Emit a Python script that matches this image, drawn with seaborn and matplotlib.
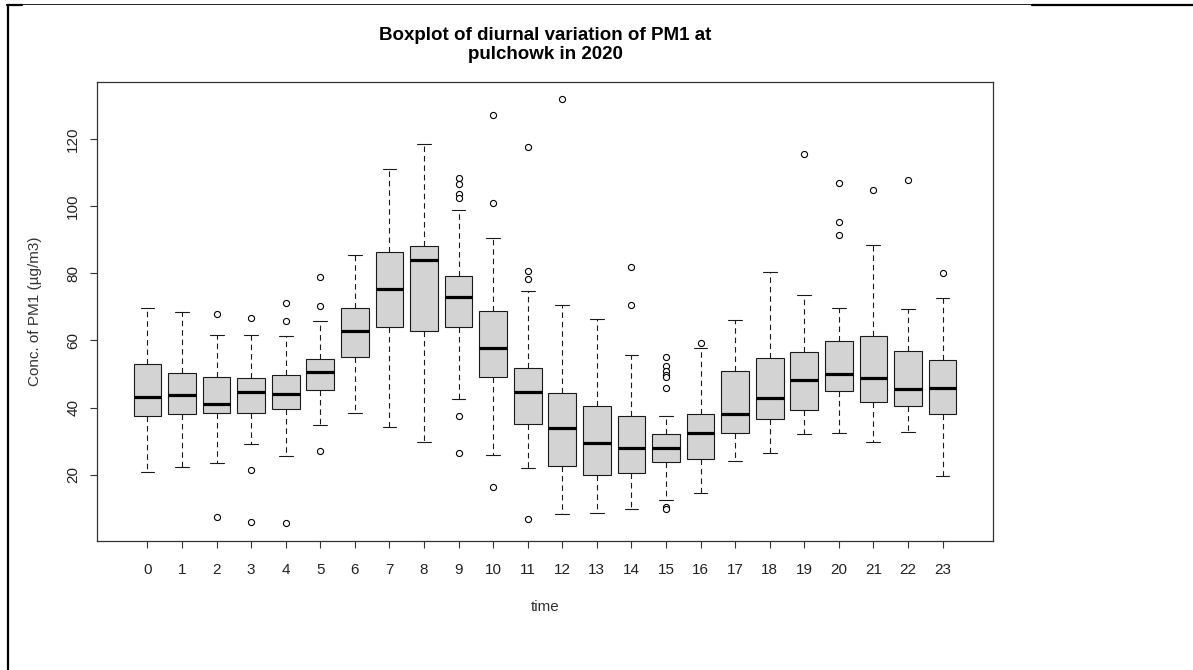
import numpy as np
import pandas as pd
import matplotlib
matplotlib.use("Agg")
import matplotlib.pyplot as plt
from matplotlib.lines import Line2D
import seaborn as sns

# ---- data ----
hours = list(range(24))
whisker_low = [20.7, 22.3, 23.5, 29.0, 25.5, 34.9, 38.3, 34.3, 29.8, 42.6, 25.9, 22.0,
               8.2, 8.7, 9.9, 12.6, 14.6, 24.2, 26.5, 32.2, 32.5, 29.6, 32.8, 19.7]
q1 = [37.5, 38.1, 38.3, 38.3, 39.5, 45.2, 55.0, 64.0, 62.7, 64.0, 49.1, 35.1,
      22.6, 20.0, 20.6, 23.8, 24.6, 32.5, 36.5, 39.2, 44.9, 41.7, 40.4, 38.1]
median = [43.2, 43.8, 41.1, 44.6, 44.0, 50.5, 62.7, 75.4, 83.8, 72.8, 57.7, 44.6,
          33.9, 29.3, 27.9, 27.9, 32.5, 38.0, 42.9, 48.1, 49.9, 48.8, 45.6, 45.9]
q3 = [53.0, 50.2, 49.0, 48.7, 49.6, 54.3, 69.5, 86.4, 88.2, 79.2, 68.7, 51.8,
      44.3, 40.4, 37.4, 32.2, 38.0, 51.0, 54.8, 56.5, 59.7, 61.4, 56.8, 54.0]
whisker_high = [69.6, 68.4, 61.7, 61.7, 61.2, 65.8, 85.5, 111.1, 118.3, 98.9, 90.5, 74.8,
                70.4, 66.3, 55.7, 37.4, 57.7, 66.0, 80.2, 73.4, 69.5, 88.4, 69.2, 72.5]

outlier_hours = [2, 2,
                 3, 3, 3,
                 4, 4, 4,
                 5, 5, 5,
                 9, 9, 9, 9, 9, 9,
                 10, 10, 10,
                 11, 11, 11, 11,
                 12,
                 14, 14,
                 15, 15, 15, 15, 15, 15, 15, 15,
                 16,
                 19,
                 20, 20, 20,
                 21,
                 22,
                 23]
outlier_values = [67.9, 7.3,
                  66.6, 21.5, 5.8,
                  71.0, 65.8, 5.6,
                  78.8, 70.1, 27.0,
                  108.3, 106.6, 103.6, 102.4, 37.5, 26.4,
                  127.0, 100.9, 16.2,
                  117.7, 80.6, 78.3, 6.8,
                  131.9,
                  81.7, 70.4,
                  55.0, 52.3, 50.8, 49.6, 49.0, 45.9, 10.5, 9.9,
                  59.2,
                  115.4,
                  106.7, 95.1, 91.3,
                  104.9,
                  107.8,
                  80.0]

title = "Boxplot of diurnal variation of PM1 at\npulchowk in 2020"
xlabel = "time"
ylabel = "Conc. of PM1 (\u00b5g/m3)"
yticks = [20, 40, 60, 80, 100, 120]

# ---- build long-form table reproducing the five-number summaries ----
B = 40
rows = []
for i, h in enumerate(hours):
    vals = [whisker_low[i]] + [q1[i]] * B + [median[i]] * B + [q3[i]] * B + [whisker_high[i]]
    rows += [(str(h), v) for v in vals]
box_df = pd.DataFrame(rows, columns=["hour", "value"])
out_df = pd.DataFrame({"hour": [str(h) for h in outlier_hours], "value": outlier_values})
order = [str(h) for h in hours]

# ---- plot ----
sns.set_theme(style="white")
plt.rcParams["font.family"] = ["Liberation Sans", "DejaVu Sans"]

fig = plt.figure(figsize=(11.93, 6.70), dpi=100)
ax = fig.add_axes([97 / 1193, 1 - 541 / 670, (993 - 97) / 1193, (541 - 82) / 670])

edge = "#1a1a1a"
sns.boxplot(data=box_df, x="hour", y="value", order=order, ax=ax,
            color="#D3D3D3", saturation=1, width=0.8, whis=(0, 100),
            showfliers=False, linecolor=edge, linewidth=0.8,
            medianprops=dict(color="black", linewidth=2.3),
            whiskerprops=dict(color=edge, linewidth=0.8, linestyle=(0, (5, 3.5))),
            capprops=dict(color=edge, linewidth=0.8, linestyle="-"))

sns.stripplot(data=out_df, x="hour", y="value", order=order, ax=ax,
              jitter=False, marker="o", size=4.4, color="white",
              edgecolor="black", linewidth=0.8, zorder=5)

ax.set_xlim(-1.46, 24.46)
ax.set_ylim(0.27, 136.9)
ax.set_yticks(yticks)
ax.set_yticklabels([str(t) for t in yticks])
ax.set_xticks(range(len(hours)))
ax.set_xticklabels(order)

for s in ax.spines.values():
    s.set_visible(True)
    s.set_color("#333333")
    s.set_linewidth(0.9)

ax.tick_params(axis="both", which="major", direction="out", length=5, width=0.8,
               color="#333333", labelsize=11, labelcolor="#222222",
               left=True, bottom=True, right=False, top=False)
ax.tick_params(axis="y", pad=7, labelrotation=90)
ax.tick_params(axis="x", pad=10.5)
for lab in ax.get_yticklabels():
    lab.set_va("center")

ax.set_xlabel(xlabel, fontsize=11, color="#333333")
ax.set_ylabel(ylabel, fontsize=11, color="#333333")
ax.xaxis.set_label_coords(0.5, -(607 - 541) / 459)
ax.xaxis.label.set_va("center")
ax.yaxis.set_label_coords(-(97 - 35) / 896, 0.5)
ax.yaxis.label.set_va("center")
ax.yaxis.label.set_ha("center")

fig.text(545 / 1193, 1 - 45 / 670, title, ha="center", va="center",
         fontsize=13.5, fontweight="bold", color="black", linespacing=1.22)

# page border decoration from the screenshot
def fline(x0, y0, x1, y1, lw):
    fig.add_artist(Line2D([x0 / 1193, x1 / 1193], [1 - y0 / 670, 1 - y1 / 670],
                          transform=fig.transFigure, color="black", linewidth=lw))

fline(8, 4.5, 8, 670, 1.6)
fline(7, 5, 22, 5, 1.6)
fline(22, 4.3, 1032, 4.3, 0.6)
fline(1032, 5, 1193, 5, 1.6)

fig.savefig("out.png", dpi=100)
